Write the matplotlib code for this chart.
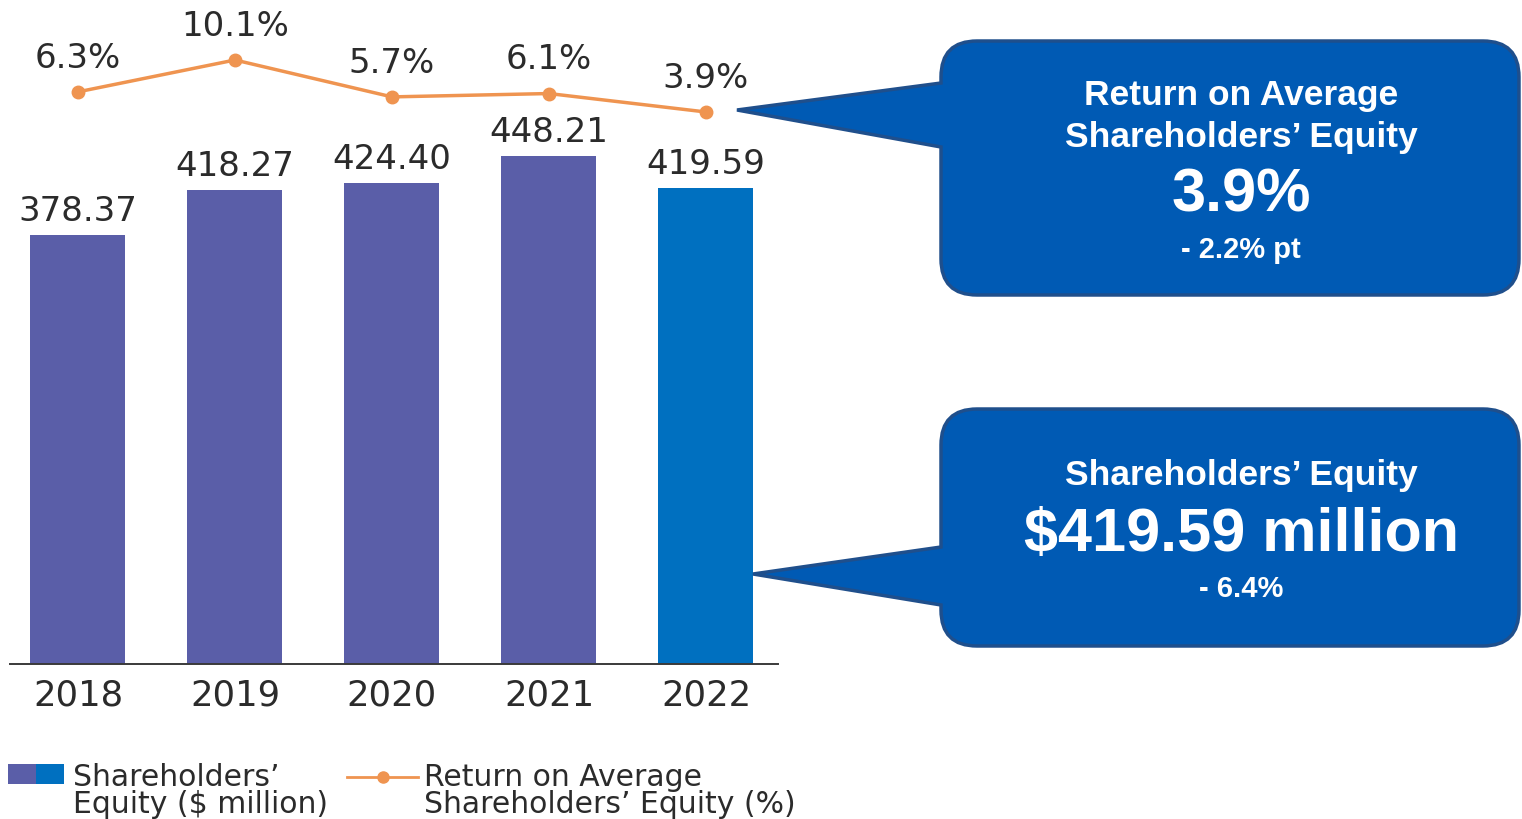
import matplotlib
matplotlib.use("Agg")
import matplotlib.pyplot as plt
from matplotlib.path import Path
from matplotlib.patches import PathPatch, Rectangle
from matplotlib.lines import Line2D

years = ["2018", "2019", "2020", "2021", "2022"]
equity = [378.37, 418.27, 424.40, 448.21, 419.59]
equity_labels = ["378.37", "418.27", "424.40", "448.21", "419.59"]
roe = [6.3, 10.1, 5.7, 6.1, 3.9]
roe_labels = ["6.3%", "10.1%", "5.7%", "6.1%", "3.9%"]

W, H = 1522, 820
purple = "#5a5ea8"
blue = "#0070c0"
orange = "#ef9450"
txt = "#2b2b2b"
box_fill = "#005ab4"
box_edge = "#1f4f8c"
font = "DejaVu Sans"

fig = plt.figure(figsize=(W / 100, H / 100), dpi=100)

# main bar axes
ax = fig.add_axes([10 / W, (H - 665) / H, (778 - 10) / W, 665 / H])
x = list(range(len(years)))
colors = [purple] * 4 + [blue]
bars = ax.bar(x, equity, width=0.605, color=colors)
ax.bar_label(bars, labels=equity_labels, padding=6, fontsize=24.5, color=txt, family=font)
ax.set_xlim(-0.433, 4.459)
ax.set_ylim(0, 665 / 1.1335)
for s in ["top", "right", "left"]:
    ax.spines[s].set_visible(False)
ax.spines["bottom"].set_color("#3a3a3a")
ax.spines["bottom"].set_linewidth(1.4)
ax.set_yticks([])
ax.set_xticks(x)
ax.set_xticklabels(years, fontsize=25.5, color=txt, family=font)
ax.tick_params(axis="x", length=0, pad=10)

# ROE line on twin axis
ax2 = ax.twinx()
ax2.set_ylim((145.7 - 665) / 8.387, 145.7 / 8.387)
ax2.plot(x, roe, color=orange, lw=2.5, marker="o", markersize=9)
for xi, v, lab in zip(x, roe, roe_labels):
    ax2.annotate(lab, (xi, v), xytext=(0, 13), textcoords="offset points",
                 ha="center", va="bottom", fontsize=24.5, color=txt, family=font)
ax2.axis("off")


def px(xp, yp):
    return (xp / W, 1 - yp / H)


def callout(x0, y0, x1, y1, ya, yb, tip, r=36):
    verts = [
        px(x0 + r, y0), px(x1 - r, y0), px(x1, y0), px(x1, y0 + r),
        px(x1, y1 - r), px(x1, y1), px(x1 - r, y1),
        px(x0 + r, y1), px(x0, y1), px(x0, y1 - r),
        px(x0, yb), px(*tip), px(x0, ya),
        px(x0, y0 + r), px(x0, y0), px(x0 + r, y0), px(x0 + r, y0),
    ]
    codes = [
        Path.MOVETO, Path.LINETO, Path.CURVE3, Path.CURVE3,
        Path.LINETO, Path.CURVE3, Path.CURVE3,
        Path.LINETO, Path.CURVE3, Path.CURVE3,
        Path.LINETO, Path.LINETO, Path.LINETO,
        Path.LINETO, Path.CURVE3, Path.CURVE3, Path.CLOSEPOLY,
    ]
    patch = PathPatch(Path(verts, codes), transform=fig.transFigure,
                      facecolor=box_fill, edgecolor=box_edge, lw=2.5, zorder=5)
    fig.add_artist(patch)


callout(941, 42, 1519, 296, 84, 148, (737, 111))
callout(941, 410, 1519, 647, 548, 606, (753, 575))

cx = 1241 / W
bold = dict(ha="center", va="center", color="white", weight="bold",
            family="Liberation Sans", zorder=6)
fig.text(cx, 1 - 95 / H, "Return on Average", fontsize=25.5, **bold)
fig.text(cx, 1 - 137 / H, "Shareholders\u2019 Equity", fontsize=25.5, **bold)
fig.text(cx, 1 - 196 / H, "3.9%", fontsize=44, **bold)
fig.text(cx, 1 - 250 / H, "- 2.2% pt", fontsize=21, **bold)
fig.text(cx, 1 - 476 / H, "Shareholders\u2019 Equity", fontsize=25.5, **bold)
fig.text(cx, 1 - 536 / H, "$419.59 million", fontsize=44, **bold)
fig.text(cx, 1 - 589 / H, "- 6.4%", fontsize=21, **bold)

# legend
fig.add_artist(Rectangle(px(8, 785), 28 / W, 20 / H, transform=fig.transFigure,
                         facecolor=purple, edgecolor="none"))
fig.add_artist(Rectangle(px(36, 785), 28 / W, 20 / H, transform=fig.transFigure,
                         facecolor=blue, edgecolor="none"))
fig.text(73 / W, 1 - 791 / H, "Shareholders\u2019\nEquity ($ million)", fontsize=21.5,
         color=txt, family=font, va="center", ha="left", linespacing=0.95)
fig.add_artist(Line2D([347 / W, 418 / W], [1 - 778 / H, 1 - 778 / H],
                      transform=fig.transFigure, color=orange, lw=2))
fig.add_artist(Line2D([383 / W], [1 - 778 / H], transform=fig.transFigure,
                      color=orange, marker="o", markersize=8))
fig.text(424 / W, 1 - 791 / H, "Return on Average\nShareholders\u2019 Equity (%)",
         fontsize=21.5, color=txt, family=font, va="center", ha="left", linespacing=0.95)

fig.savefig("out.png", dpi=100)
